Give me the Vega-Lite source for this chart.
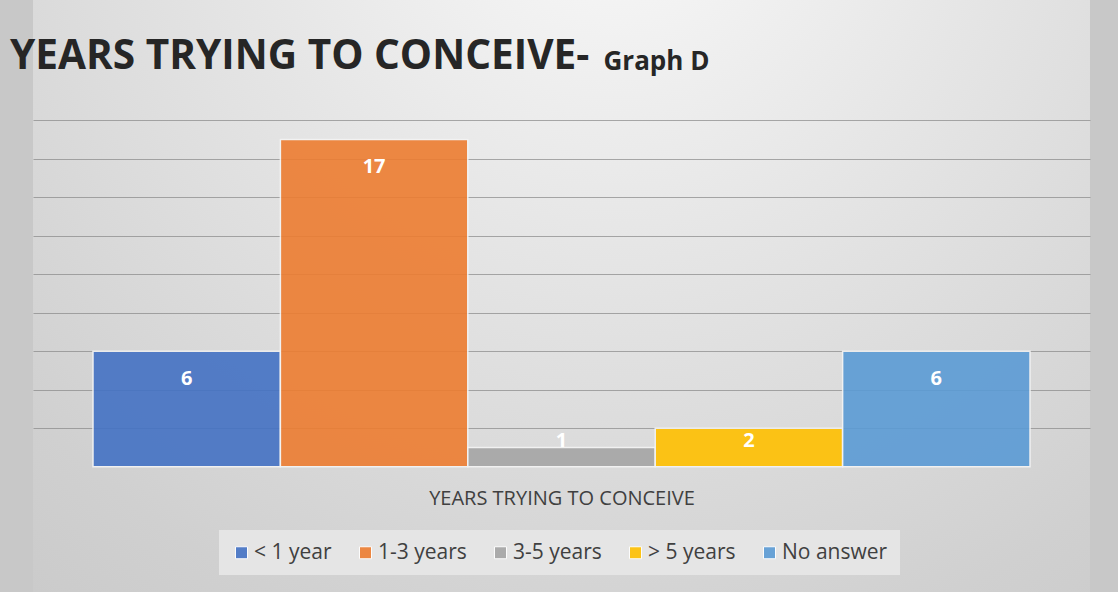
{
  "$schema": "https://vega.github.io/schema/vega-lite/v6.json",
  "width": 1057,
  "height": 592,
  "autosize": {"type": "none"},
  "padding": {"left": 33, "right": 28, "top": 0, "bottom": 0},
  "background": "#c8c8c8",
  "title": {
    "text": "YEARS TRYING TO CONCEIVE-",
    "anchor": "start",
    "frame": "group",
    "dx": -23,
    "offset": -78,
    "font": "Open Sans",
    "fontSize": 40.6,
    "fontWeight": "bold",
    "color": "#262626"
  },
  "data": {
    "values": [
      {"category": "< 1 year", "count": 6},
      {"category": "1-3 years", "count": 17},
      {"category": "3-5 years", "count": 1},
      {"category": "> 5 years", "count": 2},
      {"category": "No answer", "count": 6}
    ]
  },
  "encoding": {
    "x": {
      "field": "category",
      "type": "nominal",
      "sort": null,
      "scale": {"paddingInner": 0, "paddingOuter": 0.32},
      "axis": {
        "labels": false,
        "ticks": false,
        "domain": false,
        "grid": false,
        "title": "YEARS TRYING TO CONCEIVE",
        "titleFont": "Open Sans",
        "titleFontSize": 20,
        "titleFontWeight": "normal",
        "titleColor": "#404040",
        "titleBaseline": "alphabetic",
        "titleY": -88
      }
    }
  },
  "layer": [
    {
      "mark": {"type": "bar", "opacity": 0.9, "stroke": "#f4f4f4", "strokeWidth": 1.5},
      "encoding": {
        "y": {
          "field": "count",
          "type": "quantitative",
          "scale": {"domain": [-6.509, 24.244], "nice": false, "zero": false},
          "axis": {
            "values": [2, 4, 6, 8, 10, 12, 14, 16, 18],
            "labels": false,
            "ticks": false,
            "domain": false,
            "title": null,
            "grid": true,
            "gridColor": "#888888",
            "gridOpacity": 0.7,
            "gridWidth": 1
          }
        },
        "y2": {"datum": 0},
        "color": {
          "field": "category",
          "type": "nominal",
          "scale": {
            "domain": ["< 1 year", "1-3 years", "3-5 years", "> 5 years", "No answer"],
            "range": ["#4472C4", "#ED7D31", "#A5A5A5", "#FFC000", "#5B9BD5"]
          },
          "legend": {
            "title": null,
            "orient": "none",
            "direction": "horizontal",
            "legendX": 186,
            "legendY": 530,
            "padding": 12,
            "fillColor": "#e5e5e5",
            "symbolType": "square",
            "symbolSize": 144,
            "symbolStrokeColor": "#ffffff",
            "symbolStrokeWidth": 1,
            "labelFont": "Open Sans",
            "labelFontSize": 21,
            "labelColor": "#404040",
            "labelOffset": 2,
            "columnPadding": 23
          }
        }
      }
    },
    {
      "mark": {"type": "rule", "color": "#333333", "strokeWidth": 3},
      "encoding": {"y": {"datum": 0}}
    },
    {
      "transform": [{"filter": "datum.count >= 6"}],
      "mark": {"type": "text", "baseline": "middle", "dy": 27.5, "font": "Open Sans", "fontSize": 20, "fontWeight": "bold", "color": "#ffffff"},
      "encoding": {
        "y": {"field": "count", "type": "quantitative"},
        "text": {"field": "count", "type": "quantitative"}
      }
    },
    {
      "transform": [{"filter": "datum.count < 6"}],
      "mark": {"type": "text", "baseline": "middle", "font": "Open Sans", "fontSize": 20, "fontWeight": "bold", "color": "#ffffff"},
      "encoding": {
        "y": {"datum": 1.31},
        "text": {"field": "count", "type": "quantitative"}
      }
    },
    {
      "data": {"values": [{"label": "Graph D"}]},
      "mark": {"type": "text", "align": "left", "baseline": "alphabetic", "dx": 42, "font": "Open Sans", "fontSize": 26, "fontWeight": "bold", "color": "#262626"},
      "encoding": {
        "x": {"datum": "3-5 years"},
        "y": {"datum": 20.6},
        "text": {"field": "label", "type": "nominal"}
      }
    }
  ],
  "config": {
    "view": {
      "stroke": null,
      "fill": {
        "gradient": "radial",
        "x1": 0.55, "y1": 0.1, "r1": 0,
        "x2": 0.55, "y2": 0.1, "r2": 1.0,
        "stops": [
          {"offset": 0, "color": "#fafafa"},
          {"offset": 0.35, "color": "#e6e6e6"},
          {"offset": 0.75, "color": "#d0d0d0"},
          {"offset": 1, "color": "#c6c6c6"}
        ]
      }
    }
  }
}
